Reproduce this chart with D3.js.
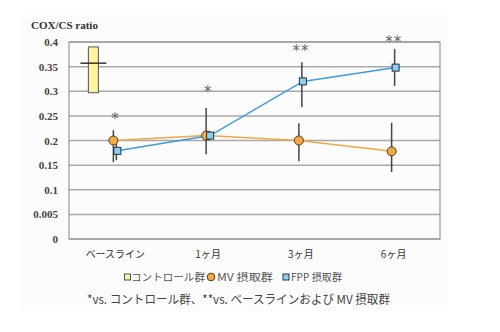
<!DOCTYPE html>
<html><head><meta charset="utf-8">
<script src="https://cdn.jsdelivr.net/npm/d3@7"></script>
<style>body{margin:0;background:#fff}svg{display:block}</style>
</head><body><svg id="c" width="500" height="332"></svg>
<script>
const categories = ["ベースライン", "1ヶ月", "3ヶ月", "6ヶ月"];
const yTicks = [0, 0.05, 0.1, 0.15, 0.2, 0.25, 0.3, 0.35, 0.4];
const yTickLabels = ["0", "0.005", "0.1", "0.15", "0.2", "0.25", "0.3", "0.35", "0.4"];
const mvValues = [0.2, 0.21, 0.2, 0.178];
const mvLow = [0.156, 0.172, 0.158, 0.136];
const mvHigh = [0.221, 0.266, 0.235, 0.236];
const fppValues = [0.179, 0.21, 0.32, 0.348];
const fppLow = [0.16, 0.2, 0.268, 0.311];
const fppHigh = [0.2, 0.22, 0.359, 0.386];
const controlMean = 0.357, controlLow = 0.297, controlHigh = 0.39;
const stars = ["*", "*", "**", "**"];
const starLevels = [0.237, 0.292, 0.376, 0.394];
const legendLabels = ["コントロール群", "MV 摂取群", "FPP 摂取群"];
const footnote = "*vs. コントロール群、**vs. ベースラインおよび MV 摂取群";

const svg = d3.select("#c");
const serif = "'Liberation Serif','Noto Sans CJK JP',serif";
const jp = "'Noto Sans CJK JP','Liberation Serif',serif";
svg.append("rect").attr("x",20).attr("y",15).attr("width",427).attr("height",295).attr("fill","#fcfcfc");

const L=69,R=440,T=42,B=239;
const x = d3.scaleBand().domain(categories).range([L,R]);
const y = d3.scaleLinear().domain([0,0.4]).range([B,T]);

svg.append("g").selectAll("line").data(yTicks).join("line")
 .attr("x1",L).attr("x2",R).attr("y1",d=>y(d)).attr("y2",d=>y(d))
 .attr("stroke","#a8a8a8").attr("stroke-width",1.5);
svg.append("rect").attr("x",L).attr("y",T).attr("width",R-L).attr("height",B-T)
 .attr("fill","none").attr("stroke","#999").attr("stroke-width",1.2);

const yAxis = d3.axisLeft(y).tickValues(yTicks).tickFormat((d,i)=>yTickLabels[i]).tickSize(0).tickPadding(11);
const ga = svg.append("g").attr("transform",`translate(${L},0)`).call(yAxis);
ga.select(".domain").remove();
ga.selectAll("text").attr("font-family",serif).attr("font-size",11).attr("font-weight","bold").attr("fill","#444");

const xAxis = d3.axisBottom(x).tickSize(0).tickPadding(12);
const gx = svg.append("g").attr("transform",`translate(0,${B})`).call(xAxis);
gx.select(".domain").remove();
gx.selectAll("text").attr("font-family",jp).attr("font-size",10).attr("fill","#333");

svg.append("text").attr("x",31).attr("y",29).text("COX/CS ratio")
 .attr("font-family",serif).attr("font-size",11).attr("font-weight","bold").attr("fill","#333");

const cx = c => x(c)+x.bandwidth()/2;
const ctrlX = cx(categories[0]) - 22;
svg.append("rect").attr("x",ctrlX-5).attr("y",y(controlHigh)).attr("width",10)
 .attr("height",y(controlLow)-y(controlHigh)).attr("fill","#fdf3a0").attr("stroke","#555").attr("stroke-width",1);
svg.append("line").attr("x1",ctrlX-13).attr("x2",ctrlX+13).attr("y1",y(controlMean)).attr("y2",y(controlMean))
 .attr("stroke","#333").attr("stroke-width",1.5);

const mvOff=-2, fppOff=2;
categories.forEach((c,i)=>{
  svg.append("line").attr("x1",cx(c)+mvOff).attr("x2",cx(c)+mvOff).attr("y1",y(mvLow[i])).attr("y2",y(mvHigh[i]))
   .attr("stroke","#444").attr("stroke-width",1.5);
  svg.append("line").attr("x1",cx(c)+fppOff-1).attr("x2",cx(c)+fppOff-1).attr("y1",y(fppLow[i])).attr("y2",y(fppHigh[i]))
   .attr("stroke","#444").attr("stroke-width",1.5);
});
const line = (vals,off)=>d3.line().x((d,i)=>cx(categories[i])+off).y(d=>y(d))(vals);
svg.append("path").attr("d",line(mvValues,mvOff)).attr("fill","none").attr("stroke","#f0a848").attr("stroke-width",1.5);
svg.append("path").attr("d",line(fppValues,fppOff)).attr("fill","none").attr("stroke","#3d9be0").attr("stroke-width",1.5);
svg.append("g").selectAll("circle").data(mvValues).join("circle")
 .attr("cx",(d,i)=>cx(categories[i])+mvOff).attr("cy",d=>y(d)).attr("r",4.5)
 .attr("fill","#f2a848").attr("stroke","#5a3a10").attr("stroke-width",1);
svg.append("g").selectAll("rect").data(fppValues).join("rect")
 .attr("x",(d,i)=>cx(categories[i])+fppOff-3.5).attr("y",d=>y(d)-3.5).attr("width",7).attr("height",7)
 .attr("fill","#8fd0f0").attr("stroke","#234").attr("stroke-width",1);
svg.append("g").selectAll("text").data(stars).join("text")
 .attr("x",(d,i)=>cx(categories[i])).attr("y",(d,i)=>y(starLevels[i])+2).attr("text-anchor","middle")
 .attr("font-family","'DejaVu Sans',sans-serif").attr("font-size",15).attr("fill","#666").attr("letter-spacing",1).text(d=>d);

// legend
const legX=[127.5,211,286];
const legTx=[131,217,291];
const legW=[74,56,51];
const lg = svg.append("g");
lg.append("rect").attr("x",legX[0]-3).attr("y",274).attr("width",6).attr("height",6).attr("fill","#fdf3a0").attr("stroke","#555");
lg.append("circle").attr("cx",legX[1]).attr("cy",277).attr("r",3.8).attr("fill","#f2a848").attr("stroke","#5a3a10");
lg.append("rect").attr("x",legX[2]-3).attr("y",274).attr("width",6).attr("height",6).attr("fill","#8fd0f0").attr("stroke","#234");
legendLabels.forEach((t,i)=>{
  lg.append("text").attr("x",legTx[i]).attr("y",281).text(t).attr("font-family",jp).attr("font-size",10)
   .attr("textLength",legW[i]).attr("lengthAdjust","spacingAndGlyphs").attr("fill","#555");
});
svg.append("text").attr("x",87).attr("y",304).text(footnote).attr("font-family",jp).attr("font-size",12)
 .attr("textLength",303).attr("lengthAdjust","spacingAndGlyphs").attr("fill","#444");
</script></body></html>
